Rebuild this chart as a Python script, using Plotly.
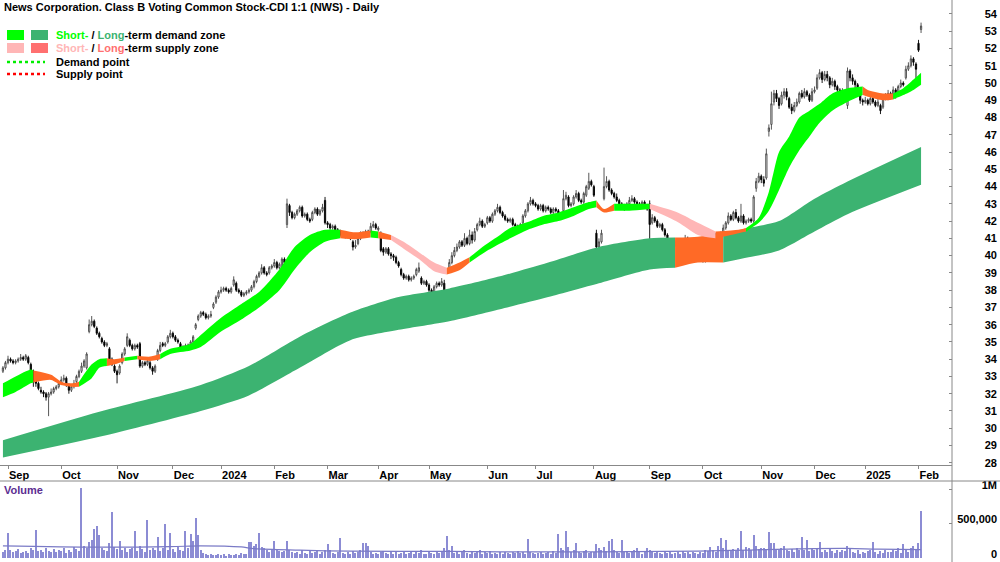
import pandas as pd
import plotly.graph_objects as go

# ---------------- data ----------------
holidays = ["2023-12-25", "2023-12-26", "2024-01-01", "2024-01-26", "2024-03-29",
            "2024-04-01", "2024-04-25", "2024-06-10", "2024-12-25", "2024-12-26",
            "2025-01-01", "2025-01-27"]

open_ = [33.3,33.5,33.8,34.0,33.9,33.8,33.9,34.0,34.1,34.0,
         34.1,33.7,33.3,32.8,32.6,32.2,32.1,32.0,31.8,32.0,
         32.1,32.3,32.4,32.6,32.8,32.9,32.5,32.2,32.4,32.7,
         33.0,33.3,33.6,33.5,35.6,36.0,36.2,35.8,35.5,35.2,
         35.0,34.8,34.6,34.0,33.6,33.3,33.2,33.8,34.3,34.8,
         35.1,34.8,34.6,34.8,34.9,33.6,33.8,33.7,33.8,33.5,
         33.3,34.0,34.5,34.9,34.8,35.0,35.3,35.5,35.3,35.1,
         34.9,34.7,34.6,34.8,34.8,35.0,35.8,36.3,36.5,36.7,
         36.6,36.4,36.5,37.0,37.3,37.6,37.9,38.0,38.1,38.0,
         37.9,38.3,38.4,38.0,37.9,37.7,37.8,37.9,38.0,38.2,
         38.5,38.8,39.0,39.3,39.0,39.0,39.3,39.4,39.6,39.3,
         39.1,39.8,41.8,42.9,42.5,42.2,42.4,42.6,42.8,42.3,
         42.4,42.1,42.1,42.5,42.7,42.4,42.6,43.2,41.9,41.8,
         41.6,41.7,41.5,41.4,41.2,41.3,41.1,41.2,40.8,40.5,
         40.7,41.0,41.3,41.2,41.4,41.4,41.7,41.8,41.5,41.3,
         40.4,40.2,40.4,40.1,40.0,39.9,39.6,39.2,38.9,38.7,
         38.8,38.6,38.7,38.9,39.1,38.7,38.4,38.5,38.3,38.0,
         37.9,38.2,38.4,38.3,38.4,37.0,39.2,39.6,40.0,40.3,
         40.5,40.8,40.6,41.0,40.7,41.2,40.9,41.5,41.8,42.0,
         41.7,41.9,42.2,42.0,42.4,42.6,42.8,42.5,42.3,42.1,
         42.0,42.1,41.8,41.7,41.6,41.9,42.3,42.6,43.0,43.2,
         43.0,42.9,42.7,42.9,42.6,42.8,42.7,42.5,42.7,42.6,
         42.4,42.6,43.3,43.4,42.9,43.0,43.4,43.6,43.2,43.1,
         43.5,43.9,44.3,44.0,41.3,40.5,40.8,43.3,44.0,44.3,
         43.8,43.6,43.4,43.2,43.0,42.9,42.8,43.0,43.2,43.3,
         43.1,43.0,42.9,43.1,42.9,43.0,41.9,42.2,42.0,41.7,
         41.8,41.5,41.2,40.9,40.7,40.6,40.8,40.5,40.6,40.9,
         41.0,40.7,40.5,40.4,40.2,40.0,39.8,39.7,39.9,40.1,
         40.6,40.4,41.0,40.6,41.3,41.6,41.9,42.3,42.1,42.5,
         42.2,42.0,42.3,41.9,42.0,42.1,42.0,43.9,44.3,44.6,
         44.4,44.5,47.2,47.6,48.9,49.4,49.1,48.8,49.3,49.5,
         49.1,48.6,48.4,48.7,48.9,49.4,49.2,49.5,49.3,49.0,
         49.5,49.7,50.3,50.6,50.2,50.5,50.3,49.9,50.1,49.8,
         49.6,49.4,49.5,48.7,50.7,50.3,50.1,49.9,49.4,49.0,
         48.9,49.0,48.8,49.1,48.9,48.7,48.7,48.6,49.2,49.1,
         49.4,49.2,49.6,49.3,49.8,50.0,50.3,50.8,51.0,51.4,
         51.1,52.3,53.1]

close_ = [33.5,33.8,34.0,33.9,33.8,33.9,34.0,34.1,34.0,34.2,
          33.8,33.2,32.8,32.6,32.3,32.1,32.0,31.8,32.0,32.1,
          32.3,32.4,32.6,32.8,32.9,32.5,32.2,32.4,32.6,33.0,
          33.3,33.6,33.9,34.3,36.0,36.2,35.9,35.5,35.3,35.0,
          34.8,34.9,34.0,33.7,33.3,33.1,33.6,34.3,34.6,35.3,
          34.8,34.6,34.8,34.7,33.6,33.8,33.7,33.9,33.5,33.3,
          33.6,34.5,34.8,34.8,34.9,35.3,35.5,35.3,35.1,35.0,
          34.7,34.6,34.8,34.7,35.0,35.3,36.0,36.5,36.7,36.6,
          36.4,36.5,36.6,37.2,37.6,37.9,38.0,38.1,38.0,37.9,
          38.1,38.6,38.0,37.9,37.7,37.8,37.9,38.0,38.2,38.5,
          38.8,39.0,39.3,39.0,38.9,39.3,39.4,39.6,39.3,39.5,
          39.8,39.6,43.0,42.5,42.2,42.4,42.6,42.8,42.3,42.4,
          42.1,42.0,42.5,42.7,42.4,42.6,42.8,41.9,41.8,41.6,
          41.7,41.5,41.4,41.2,41.3,41.1,41.2,41.0,40.5,40.6,
          41.0,41.3,41.2,41.4,41.3,41.7,41.8,41.6,41.6,40.3,
          40.2,40.4,40.1,40.0,39.9,39.6,39.4,38.9,38.7,38.8,
          38.6,38.7,38.8,39.2,39.3,38.4,38.5,38.3,38.0,37.9,
          38.2,38.4,38.3,38.5,36.9,37.3,39.6,40.0,40.3,40.5,
          40.8,40.6,41.0,40.7,41.2,40.9,41.4,41.8,42.0,41.7,
          41.8,42.2,42.0,42.4,42.6,42.8,42.5,42.3,42.1,42.0,
          42.1,41.8,41.7,41.6,41.8,42.3,42.6,43.0,43.2,43.0,
          42.9,42.7,42.9,42.6,42.8,42.7,42.5,42.7,42.6,42.4,
          42.2,43.3,43.5,42.9,43.0,43.4,43.6,43.2,43.1,43.6,
          44.0,44.3,44.1,43.5,40.5,40.8,41.3,44.0,44.3,43.8,
          43.6,43.4,43.2,43.0,42.9,42.8,43.0,43.2,43.3,43.1,
          43.0,42.9,43.1,42.9,42.7,41.8,42.2,42.0,41.7,41.8,
          41.5,41.2,40.9,40.7,40.6,40.8,40.5,40.6,40.9,41.0,
          40.7,40.5,40.4,40.2,40.0,39.8,39.7,39.9,40.1,40.6,
          40.4,41.0,40.5,41.3,41.6,41.9,42.3,42.1,42.5,42.2,
          42.0,42.3,41.9,42.0,42.1,42.0,43.4,44.3,44.6,44.4,
          44.2,45.9,47.4,48.8,49.4,49.1,48.7,49.3,49.5,49.2,
          48.6,48.4,48.7,48.9,49.4,49.2,49.5,49.3,49.0,49.5,
          49.6,50.3,50.6,50.2,50.5,50.3,49.9,50.1,49.8,49.6,
          49.4,49.5,49.2,50.7,50.3,50.1,49.9,49.5,49.0,48.9,
          49.0,48.8,49.1,48.9,48.7,48.9,48.4,49.2,49.1,49.4,
          49.2,49.6,49.3,49.8,50.0,49.9,50.8,51.0,51.4,51.2,
          50.8,51.9,53.3]

high_ = [33.6,33.9,34.2,34.1,34.0,34.0,34.1,34.3,34.2,34.3,
         34.2,33.8,33.4,33.0,32.7,32.4,32.2,32.1,32.1,32.3,
         32.4,32.5,32.7,33.0,33.1,33.0,32.6,32.5,32.8,33.1,
         33.4,33.8,34.0,34.4,36.3,36.5,36.3,35.9,35.6,35.3,
         35.1,35.0,34.7,34.1,33.7,33.4,33.7,34.4,34.7,35.5,
         35.2,34.9,34.9,34.9,35.0,33.9,33.9,34.0,33.9,33.6,
         33.7,34.6,35.0,35.0,35.0,35.4,35.7,35.6,35.4,35.2,
         35.0,34.8,34.9,34.9,35.1,35.4,36.1,36.6,36.8,36.8,
         36.7,36.6,36.8,37.3,37.7,38.0,38.2,38.2,38.2,38.1,
         38.2,38.8,38.5,38.1,38.0,37.9,38.0,38.1,38.3,38.6,
         38.9,39.1,39.5,39.4,39.1,39.4,39.5,39.8,39.7,39.6,
         39.9,39.9,43.3,43.0,42.6,42.5,42.7,42.9,42.9,42.5,
         42.5,42.2,42.6,42.8,42.8,42.7,43.0,43.4,42.0,41.9,
         41.8,41.8,41.6,41.5,41.4,41.4,41.3,41.3,40.9,40.9,
         41.1,41.4,41.4,41.5,41.5,41.9,42.0,41.9,41.7,41.4,
         40.5,40.5,40.5,40.2,40.1,40.0,39.7,39.3,39.0,38.9,
         38.9,38.8,38.9,39.3,39.6,38.8,38.6,38.6,38.4,38.1,
         38.3,38.5,38.5,38.7,38.6,37.5,39.8,40.2,40.5,40.7,
         40.9,40.9,41.3,41.1,41.5,41.4,41.6,41.9,42.2,42.1,
         41.9,42.3,42.3,42.5,42.7,43.0,42.9,42.6,42.4,42.2,
         42.2,42.2,41.9,41.8,41.9,42.4,42.7,43.1,43.4,43.3,
         43.1,43.0,43.0,43.0,42.9,42.9,42.8,42.8,42.8,42.7,
         42.5,43.8,43.7,43.5,43.1,43.5,43.8,43.7,43.3,43.7,
         44.1,44.8,44.4,44.1,41.5,41.0,41.5,45.1,44.6,44.4,
         43.9,43.7,43.6,43.3,43.1,43.0,43.1,43.4,43.5,43.4,
         43.2,43.1,43.2,43.2,43.0,43.2,42.4,42.3,42.1,41.9,
         41.9,41.6,41.3,41.0,40.8,40.9,40.9,40.7,41.0,41.2,
         41.1,40.8,40.6,40.5,40.3,40.1,39.9,40.0,40.2,40.7,
         40.9,41.3,41.1,41.4,41.8,42.0,42.5,42.4,42.6,42.7,
         42.3,43.0,42.4,42.1,42.2,42.2,43.5,44.5,44.8,44.7,
         44.6,46.2,47.6,49.5,49.6,49.6,49.2,49.5,49.7,49.7,
         49.2,48.8,48.9,49.1,49.5,49.6,49.7,49.6,49.4,49.7,
         49.8,50.5,50.8,50.7,50.7,50.7,50.4,50.3,50.2,49.9,
         49.7,49.7,49.6,50.9,50.8,50.5,50.2,50.0,49.5,49.1,
         49.2,49.1,49.3,49.2,49.0,49.1,48.8,49.3,49.4,49.6,
         49.5,49.8,49.7,49.9,50.2,50.1,51.0,51.2,51.6,51.5,
         51.2,52.5,53.5]

low_ = [33.2,33.4,33.7,33.8,33.7,33.7,33.8,33.9,33.9,33.9,
        33.7,33.1,32.4,32.4,32.2,32.0,31.8,31.6,30.7,31.9,
        32.0,32.2,32.3,32.5,32.7,32.4,32.0,32.1,32.3,32.6,
        32.9,33.2,33.5,33.4,35.5,35.9,35.8,35.4,35.2,34.9,
        34.7,34.7,33.9,33.6,33.2,32.6,33.1,33.7,34.2,34.7,
        34.7,34.5,34.5,34.6,33.5,33.5,33.6,33.6,33.4,33.1,
        33.2,33.9,34.4,34.7,34.7,34.9,35.2,35.2,35.0,34.9,
        34.6,34.5,34.5,34.6,34.7,34.9,35.7,36.2,36.4,36.5,
        36.3,36.3,36.4,36.9,37.2,37.5,37.8,37.9,37.9,37.8,
        37.8,38.2,37.9,37.8,37.6,37.6,37.7,37.8,37.9,38.1,
        38.4,38.7,38.9,38.9,38.8,38.9,39.2,39.3,39.2,39.2,
        39.0,39.5,41.6,42.3,42.1,42.1,42.3,42.5,42.2,42.2,
        42.0,41.9,42.0,42.4,42.3,42.3,42.5,41.8,41.6,41.5,
        41.5,41.4,41.3,41.1,41.1,41.0,41.0,40.9,40.3,40.4,
        40.6,40.9,41.1,41.1,41.2,41.3,41.6,41.5,41.4,40.2,
        40.0,40.1,40.0,39.8,39.7,39.5,39.3,38.8,38.6,38.6,
        38.5,38.5,38.6,38.8,39.0,38.3,38.3,38.2,37.9,37.7,
        37.8,38.1,38.2,38.2,36.6,36.9,39.1,39.5,39.9,40.2,
        40.4,40.5,40.5,40.6,40.6,40.7,40.8,41.4,41.7,41.6,
        41.6,41.8,41.9,41.9,42.3,42.5,42.4,42.2,42.0,41.9,
        41.9,41.7,41.6,41.5,41.5,41.8,42.2,42.5,42.9,42.9,
        42.8,42.6,42.6,42.5,42.5,42.6,42.4,42.4,42.5,42.3,
        42.1,42.5,43.2,42.8,42.8,42.9,43.3,43.1,43.0,43.0,
        43.4,43.8,44.0,43.4,40.0,40.3,40.7,43.2,43.9,43.7,
        43.5,43.3,43.1,42.9,42.7,42.6,42.7,42.9,43.1,43.0,
        42.9,42.8,42.8,42.8,42.6,40.5,41.8,41.9,41.6,41.6,
        41.4,41.1,40.8,40.6,40.4,40.5,40.4,40.4,40.5,40.8,
        40.6,40.4,40.3,40.1,39.9,39.7,39.6,39.6,39.8,40.0,
        40.2,40.3,39.9,40.5,41.2,41.5,41.8,42.0,42.0,42.1,
        41.9,41.9,41.8,41.8,41.9,41.9,41.9,43.7,44.2,44.2,
        44.0,44.4,46.9,47.3,48.7,48.9,48.5,48.7,49.1,49.0,
        48.5,48.2,48.3,48.6,48.8,49.1,49.1,49.2,48.9,48.9,
        49.4,49.6,50.2,50.0,50.1,50.1,49.7,49.8,49.6,49.4,
        49.2,49.3,49.0,48.5,50.1,49.9,49.7,49.3,48.8,48.7,
        48.8,48.7,48.7,48.8,48.6,48.6,48.2,48.5,49.0,49.0,
        49.1,49.1,49.1,49.2,49.7,49.8,50.2,50.7,50.9,51.0,
        50.2,51.8,52.9]

volume_k = [90,120,357,110,80,95,130,70,85,100,
            75,140,110,400,95,120,80,150,105,90,
            130,85,110,95,140,75,115,90,160,125,
            100,1010,180,140,230,260,414,470,330,150,
            120,95,214,670,160,130,240,110,150,90,
            125,140,385,100,170,130,85,557,120,150,
            110,300,95,140,500,120,357,130,90,160,
            120,105,385,145,343,250,585,330,110,70,
            55,45,60,40,50,65,45,55,35,60,
            50,40,55,45,70,65,60,230,230,180,
            200,357,160,140,120,90,110,245,130,100,
            80,95,245,120,90,70,85,60,110,75,
            60,95,70,85,100,65,80,120,200,110,
            75,60,90,285,70,55,80,60,95,70,
            85,110,215,215,180,90,60,75,55,80,
            95,70,60,100,65,85,55,70,90,60,
            75,95,60,80,70,110,65,55,90,70,
            60,80,75,95,140,315,120,180,70,85,
            65,90,110,70,60,85,75,100,120,65,
            80,70,95,60,75,55,90,65,80,70,
            60,85,70,100,75,90,65,270,80,70,
            60,75,90,55,70,85,60,100,75,343,
            150,120,385,160,90,110,215,80,70,95,
            120,75,90,85,205,140,110,160,100,245,
            270,120,90,75,260,85,100,70,95,110,
            150,80,65,90,150,120,85,70,95,75,
            60,80,70,90,55,75,85,60,95,70,
            80,65,90,75,60,85,70,110,95,160,
            120,90,170,285,140,260,110,95,130,100,
            150,385,120,160,140,110,330,180,125,150,
            140,120,370,215,215,130,110,150,170,120,
            100,130,90,140,120,300,110,260,95,125,
            110,150,230,90,120,80,140,100,75,110,
            85,120,95,170,130,90,70,110,60,80,
            70,95,110,230,85,60,100,75,120,90,
            80,110,95,140,70,200,120,90,150,170,
            110,215,685]

# volume moving-average line (thousands), read at a few trading-day positions
vol_ma_day = [0, 38, 66, 78, 94, 98, 117, 137, 176, 196, 235, 274, 294, 314, 333, 345, 362]
vol_ma_k = [176, 157, 165, 176, 160, 140, 115, 100, 95, 90, 90, 100, 115, 133, 140, 128, 120]

# short-term zone edges at trading-day positions
st_day = [0, 5, 11, 12, 19, 23, 27, 30, 35, 38, 41, 44, 48, 53, 58, 62, 66, 74, 78, 86,
          94, 101, 109, 115, 121, 127, 133, 139, 145, 148, 153, 158, 164, 170, 175, 180,
          184, 190, 196, 200, 207, 213, 219, 225, 231, 234, 237, 241, 247, 255, 266, 274,
          281, 290, 293, 298, 302, 306, 310, 314, 318, 322, 327, 333, 339, 341, 347, 351,
          355, 359, 362]
st_upper = [32.6, 33.0, 33.4, 33.35, 33.1, 32.7, 32.6, 32.7, 33.7, 34.0, 34.05, 34.0, 34.1,
            34.2, 34.15, 34.3, 34.6, 34.9, 35.4, 36.4, 37.2, 37.9, 39.2, 40.5, 41.2, 41.5,
            41.5, 41.35, 41.45, 41.4, 41.2, 40.8, 40.2, 39.6, 39.3, 39.6, 39.9, 40.6, 41.2,
            41.6, 41.95, 42.3, 42.5, 42.8, 43.1, 43.2, 42.7, 43.0, 43.0, 43.0, 42.5, 41.9,
            41.4, 41.5, 41.6, 42.2, 43.7, 46.0, 46.9, 48.0, 48.4, 48.8, 49.4, 49.7, 49.8,
            49.6, 49.4, 49.4, 49.7, 50.2, 50.6]
st_lower = [31.8, 32.1, 32.6, 32.65, 32.8, 32.5, 32.4, 32.4, 32.9, 33.5, 33.6, 33.7, 33.9,
            34.0, 33.9, 34.0, 34.3, 34.5, 34.7, 35.6, 36.3, 37.0, 38.0, 39.2, 40.2, 40.8,
            41.0, 40.95, 41.05, 41.0, 40.9, 40.4, 39.8, 39.1, 38.9, 39.15, 39.6, 40.2, 40.7,
            41.0, 41.5, 41.8, 42.0, 42.3, 42.7, 42.8, 42.5, 42.6, 42.6, 42.7, 41.95, 41.2,
            41.0, 41.3, 41.4, 41.9, 42.6, 43.8, 45.1, 46.1, 46.9, 47.7, 48.4, 48.9, 49.3,
            49.2, 49.0, 49.05, 49.3, 49.6, 49.9]
# zone state per stretch: (from day, to day, state)
st_states = [(0, 12, "demand"), (12, 30, "mixed"), (30, 41, "demand"), (41, 48, "mixed"),
             (48, 53, "demand"), (53, 62, "mixed"), (62, 133, "demand"), (133, 145, "mixed"),
             (145, 148, "demand"), (148, 153, "mixed"), (153, 175, "supply"),
             (175, 184, "mixed"), (184, 234, "demand"), (234, 241, "mixed"),
             (241, 255, "demand"), (255, 281, "supply"), (281, 293, "mixed"),
             (293, 339, "demand"), (339, 351, "mixed"), (351, 362, "demand")]

# long-term zone edges
lt_day = [0, 38, 78, 97, 117, 137, 156, 176, 196, 215, 235, 255, 265, 274, 284, 294, 306, 320, 333, 362]
lt_upper = [29.3, 30.95, 32.5, 33.6, 35.3, 36.7, 37.6, 38.1, 38.8, 39.6, 40.5, 41.0, 41.05,
            41.1, 41.3, 41.6, 42.0, 43.3, 44.3, 46.3]
lt_lower = [28.3, 29.5, 31.0, 31.9, 33.5, 35.1, 35.7, 36.2, 36.9, 37.6, 38.4, 39.2, 39.3,
            39.6, 39.6, 39.9, 40.3, 41.4, 42.4, 44.1]
lt_states = [(0, 265, "demand"), (265, 284, "mixed"), (284, 362, "demand")]

price_ticks = list(range(28, 55))
vol_ticks = [0, 500, 1000]
vol_tick_text = ["0", "500,000", "1M"]

TITLE = "News Corporation. Class B Voting Common Stock-CDI 1:1 (NWS) - Daily"

# ---------------- styling ----------------
C_ST_DEMAND = "#00ff00"
C_LT_DEMAND = "#3cb371"
C_ST_SUPPLY = "#ffb6b6"
C_LT_SUPPLY = "#ff7070"
C_MIXED = "#ff6a26"
C_VOL = "#8c8cd4"
C_VOL_MA = "#7a7ac6"
AXC = "#888888"
FONT = "Arial, Liberation Sans, sans-serif"

W, H = 1000, 562
n = min(len(open_), len(close_), len(high_), len(low_), len(volume_k))
days = pd.bdate_range("2023-08-30", "2025-02-28")
days = days[~days.isin(pd.to_datetime(holidays))][:n]
xi = list(range(n))

tick_idx, tick_txt = [], []
prev = None
for i, d in enumerate(days):
    key = (d.year, d.month)
    if prev is not None and key != prev:
        tick_idx.append(i)
        tick_txt.append(str(d.year) if d.month == 1 else d.strftime("%b"))
    prev = key


def px(x):
    return x / W


def py(y):
    return 1 - y / H


fig = go.Figure()


def add_zone(days_k, upper, lower, states, colors):
    for a, b, st in states:
        ia, ib = days_k.index(a), days_k.index(b)
        xs = days_k[ia:ib + 1]
        fig.add_trace(go.Scatter(x=xs, y=lower[ia:ib + 1], mode="lines",
                                 line=dict(width=0, shape="spline", smoothing=0.7),
                                 hoverinfo="skip", showlegend=False))
        fig.add_trace(go.Scatter(x=xs, y=upper[ia:ib + 1], mode="lines", fill="tonexty",
                                 fillcolor=colors[st],
                                 line=dict(width=0, shape="spline", smoothing=0.7),
                                 hoverinfo="skip", showlegend=False))


add_zone(lt_day, lt_upper, lt_lower, lt_states,
         {"demand": C_LT_DEMAND, "supply": C_LT_SUPPLY, "mixed": C_MIXED})
add_zone(st_day, st_upper, st_lower, st_states,
         {"demand": C_ST_DEMAND, "supply": C_ST_SUPPLY, "mixed": C_MIXED})

fig.add_trace(go.Candlestick(
    x=xi, open=open_[:n], high=high_[:n], low=low_[:n], close=close_[:n],
    increasing=dict(line=dict(color="#444444", width=0.9), fillcolor="#ffffff"),
    decreasing=dict(line=dict(color="#000000", width=0.9), fillcolor="#000000"),
    whiskerwidth=0, showlegend=False, hoverinfo="skip"))

# invisible carrier for the right-aligned price labels
fig.add_trace(go.Scatter(x=xi, y=close_[:n], mode="lines", line=dict(width=0),
                         opacity=0, hoverinfo="skip", showlegend=False,
                         xaxis="x", yaxis="y3"))

fig.add_trace(go.Bar(x=xi, y=volume_k[:n], marker=dict(color=C_VOL, line=dict(width=0)),
                     width=0.45, xaxis="x2", yaxis="y2", showlegend=False,
                     hoverinfo="skip"))
fig.add_trace(go.Scatter(x=vol_ma_day, y=vol_ma_k, mode="lines",
                         line=dict(color=C_VOL_MA, width=1.2, shape="spline"),
                         xaxis="x2", yaxis="y2", showlegend=False, hoverinfo="skip"))
fig.add_trace(go.Scatter(x=xi, y=volume_k[:n], mode="lines", line=dict(width=0),
                         opacity=0, hoverinfo="skip", showlegend=False,
                         xaxis="x2", yaxis="y4"))

xdom = [0, 952 / W]
P_TOP, P_BOT = 54.81, 27.87
price_dom = [py(465), 1]
V_TOP = 1116.0
vol_dom = [py(558), py(481)]

tickfont = dict(family=FONT, size=11, color="#000000", weight="bold")

fig.update_layout(
    width=W, height=H, margin=dict(l=0, r=0, t=0, b=0, autoexpand=False),
    paper_bgcolor="white", plot_bgcolor="white",
    showlegend=False, bargap=0,
    xaxis=dict(domain=xdom, range=[-1.155, 374.2], anchor="y",
               tickmode="array", tickvals=tick_idx, ticktext=tick_txt,
               ticks="outside", ticklen=3, tickcolor=AXC,
               ticklabelposition="outside right", tickfont=tickfont,
               showline=True, linecolor=AXC, linewidth=1,
               showgrid=False, zeroline=False, rangeslider=dict(visible=False)),
    xaxis2=dict(domain=xdom, matches="x", anchor="y2", showticklabels=False,
                showgrid=False, zeroline=False, showline=False, ticks=""),
    yaxis=dict(domain=price_dom, range=[P_BOT, P_TOP], side="right", anchor="x",
               tickmode="array", tickvals=price_ticks, ticks="inside", ticklen=3,
               tickcolor=AXC, showticklabels=False, showline=False,
               showgrid=False, zeroline=False),
    yaxis3=dict(overlaying="y", range=[P_BOT, P_TOP], side="right", anchor="free",
                position=1.0, tickmode="array", tickvals=price_ticks,
                ticklabelposition="inside", ticklabeloverflow="allow",
                tickfont=tickfont, ticks="",
                showline=False, showgrid=False, zeroline=False),
    yaxis2=dict(domain=vol_dom, range=[0, V_TOP], side="right", anchor="x2",
                tickmode="array", tickvals=vol_ticks, ticks="inside", ticklen=3,
                tickcolor=AXC, showticklabels=False, showline=False,
                showgrid=False, zeroline=False),
    yaxis4=dict(overlaying="y2", range=[0, V_TOP], side="right", anchor="free",
                position=1.0, tickmode="array", tickvals=vol_ticks,
                ticktext=vol_tick_text, ticklabelposition="inside",
                ticklabeloverflow="allow", ticklabelshift=-4, tickfont=tickfont,
                ticks="", showline=False, showgrid=False, zeroline=False),
)

shapes = [
    dict(type="line", xref="paper", yref="paper", x0=px(952), x1=px(952), y0=0, y1=1,
         line=dict(color=AXC, width=1)),
    dict(type="line", xref="paper", yref="paper", x0=0, x1=1, y0=py(481), y1=py(481),
         line=dict(color=AXC, width=1)),
    dict(type="rect", xref="paper", yref="paper", x0=px(7), x1=px(24), y0=py(40), y1=py(30),
         fillcolor=C_ST_DEMAND, line=dict(width=0)),
    dict(type="rect", xref="paper", yref="paper", x0=px(31), x1=px(48), y0=py(40), y1=py(30),
         fillcolor=C_LT_DEMAND, line=dict(width=0)),
    dict(type="rect", xref="paper", yref="paper", x0=px(7), x1=px(24), y0=py(53), y1=py(43),
         fillcolor=C_ST_SUPPLY, line=dict(width=0)),
    dict(type="rect", xref="paper", yref="paper", x0=px(31), x1=px(48), y0=py(53), y1=py(43),
         fillcolor=C_LT_SUPPLY, line=dict(width=0)),
    dict(type="line", xref="paper", yref="paper", x0=px(7), x1=px(45), y0=py(62), y1=py(62),
         line=dict(color="#00ee00", width=2.5, dash="dot")),
    dict(type="line", xref="paper", yref="paper", x0=px(7), x1=px(45), y0=py(74), y1=py(74),
         line=dict(color="#ff0000", width=2.5, dash="dot")),
]

lfont = dict(family=FONT, size=11, color="#000000", weight="bold")
annotations = [
    dict(text=TITLE, x=px(2), y=py(7)),
    dict(text=f"<span style='color:{C_ST_DEMAND}'>Short-</span> / "
              f"<span style='color:{C_LT_DEMAND}'>Long</span>-term demand zone",
         x=px(54), y=py(35)),
    dict(text=f"<span style='color:{C_ST_SUPPLY}'>Short-</span> / "
              f"<span style='color:{C_LT_SUPPLY}'>Long</span>-term supply zone",
         x=px(54), y=py(48)),
    dict(text="Demand point", x=px(54), y=py(62)),
    dict(text="Supply point", x=px(54), y=py(74)),
]
ann = []
for a in annotations:
    a.update(xref="paper", yref="paper", xanchor="left", yanchor="middle",
             showarrow=False, font=lfont)
    ann.append(a)
ann.append(dict(text="Volume", x=px(2), y=py(490), xref="paper", yref="paper",
                xanchor="left", yanchor="middle", showarrow=False,
                font=dict(family=FONT, size=11, color="#5c2d91", weight="bold")))

fig.update_layout(shapes=shapes, annotations=ann)
fig.write_html("out.html")
